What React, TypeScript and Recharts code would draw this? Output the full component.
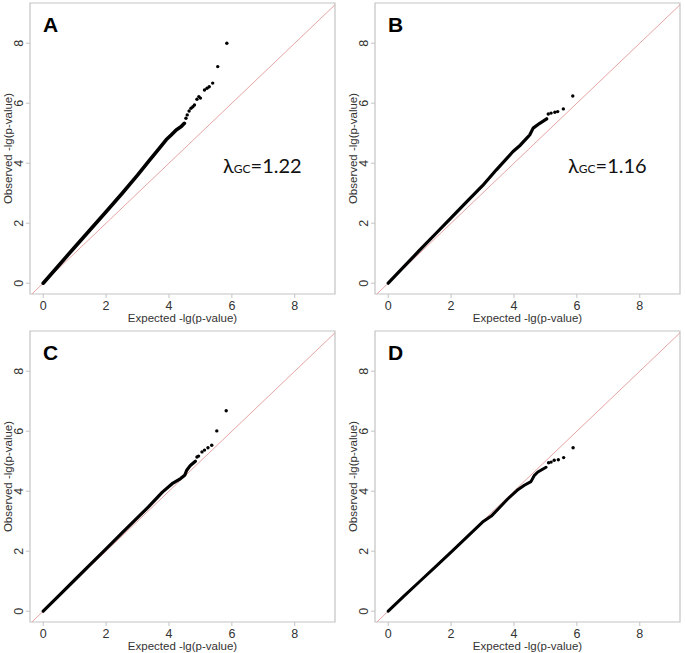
import { ReferenceArea, ReferenceLine, Scatter, ScatterChart, XAxis, YAxis } from 'recharts';

const ticks = [0, 2, 4, 6, 8];
const xDomain: [number, number] = [-0.42, 9.28];
const yDomain: [number, number] = [-0.36, 9.34];

const bulkA: [number, number][] = [
  [0, 0], [0.5, 0.6], [1, 1.2], [1.5, 1.79], [2, 2.38], [2.5, 2.98], [3, 3.6], [3.39, 4.11],
  [3.6, 4.38], [3.91, 4.78], [4.07, 4.94], [4.23, 5.11], [4.39, 5.22], [4.49, 5.33],
];
const tailA: [number, number][] = [
  [4.54, 5.5], [4.58, 5.61], [4.64, 5.74], [4.7, 5.83], [4.76, 5.88], [4.81, 5.94], [4.89, 6.13],
  [4.95, 6.22], [5.0, 6.17], [5.13, 6.44], [5.21, 6.5], [5.28, 6.55], [5.39, 6.67], [5.55, 7.22], [5.84, 8.0],
];

const bulkB: [number, number][] = [
  [0, 0], [0.5, 0.55], [1, 1.1], [1.5, 1.64], [2, 2.18], [2.5, 2.72], [3, 3.25], [3.44, 3.78],
  [3.97, 4.39], [4.2, 4.6], [4.4, 4.83], [4.5, 4.94], [4.61, 5.17], [4.82, 5.33], [5.04, 5.48],
];
const tailB: [number, number][] = [
  [5.09, 5.64], [5.18, 5.67], [5.3, 5.7], [5.39, 5.72], [5.57, 5.81], [5.87, 6.24],
];

const bulkC: [number, number][] = [
  [0, 0], [0.5, 0.52], [1, 1.04], [1.5, 1.56], [2, 2.08], [2.5, 2.6], [3, 3.12], [3.37, 3.5],
  [3.79, 3.97], [4.1, 4.25], [4.37, 4.42], [4.5, 4.53], [4.56, 4.69], [4.68, 4.86], [4.84, 5.0],
];
const tailC: [number, number][] = [
  [4.89, 5.14], [4.94, 5.17], [5.05, 5.31], [5.13, 5.37], [5.24, 5.45], [5.36, 5.53], [5.52, 6.01], [5.82, 6.68],
];

const bulkD: [number, number][] = [
  [0, 0], [0.5, 0.5], [1, 0.99], [1.5, 1.48], [2, 1.97], [2.5, 2.47], [3, 2.97], [3.28, 3.17],
  [3.8, 3.74], [4.1, 4.03], [4.33, 4.2], [4.54, 4.32], [4.65, 4.53], [4.76, 4.64], [5.02, 4.8],
];
const tailD: [number, number][] = [
  [5.1, 4.95], [5.18, 4.97], [5.28, 5.03], [5.41, 5.05], [5.58, 5.12], [5.88, 5.45],
];

const panelLetters = ['A', 'B', 'C', 'D'];
const lambdaLabels = ['1.22', '1.16'];

const FONT = '"Liberation Sans", Arial, sans-serif';
const TEXT = '#333';
const BOX = '#c4c4c4';
const PLOT_LEFT = 30;
const PLOT_BOTTOM = 294;

const XTick = ({ x, payload }: any) => (
  <text x={x} y={PLOT_BOTTOM + 16} textAnchor="middle" fontSize={12.5} fill={TEXT} fontFamily={FONT}>
    {payload.value}
  </text>
);

const YTick = ({ y, payload }: any) => (
  <text
    transform={`translate(${PLOT_LEFT - 7},${y}) rotate(-90)`}
    textAnchor="middle"
    fontSize={12.5}
    fill={TEXT}
    fontFamily={FONT}
  >
    {payload.value}
  </text>
);

const toPoints = (pairs: [number, number][]) => pairs.map(([x, y]) => ({ x, y }));

function QQPanel({ left, top, bulk, tail, weight }: { left: number; top: number; bulk: [number, number][]; tail: [number, number][]; weight: number }) {
  return (
    <div style={{ position: 'absolute', left, top }}>
      <ScatterChart width={340} height={326} margin={{ top: 3, right: 5, bottom: 0, left: 0 }}>
        <XAxis
          type="number"
          dataKey="x"
          domain={xDomain}
          ticks={ticks}
          interval={0}
          allowDataOverflow
          axisLine={false}
          tickLine={{ stroke: BOX }}
          tickSize={4}
          height={32}
          tick={XTick}
        />
        <YAxis
          type="number"
          dataKey="y"
          domain={yDomain}
          ticks={ticks}
          interval={0}
          allowDataOverflow
          axisLine={false}
          tickLine={{ stroke: BOX }}
          tickSize={4}
          width={PLOT_LEFT}
          tick={YTick}
        />
        <ReferenceArea x1={xDomain[0]} x2={xDomain[1]} y1={yDomain[0]} y2={yDomain[1]} fill="none" stroke={BOX} strokeWidth={1.2} />
        <ReferenceLine segment={[{ x: -0.36, y: -0.36 }, { x: 9.28, y: 9.28 }]} stroke="#e6a4a4" strokeWidth={1} />
        <Scatter
          data={toPoints(bulk)}
          line={{ stroke: '#000', strokeWidth: weight, strokeLinecap: 'round', strokeLinejoin: 'round' }}
          lineType="joint"
          shape={() => <g />}
          isAnimationActive={false}
        />
        <Scatter
          data={toPoints(tail)}
          shape={(p: any) => <circle cx={p.cx} cy={p.cy} r={1.7} fill="#000" />}
          isAnimationActive={false}
        />
      </ScatterChart>
    </div>
  );
}

const panels = [
  { left: 0, top: 0, bulk: bulkA, tail: tailA, weight: 3.6 },
  { left: 345, top: 0, bulk: bulkB, tail: tailB, weight: 3.2 },
  { left: 0, top: 328, bulk: bulkC, tail: tailC, weight: 3.2 },
  { left: 345, top: 328, bulk: bulkD, tail: tailD, weight: 3 },
];

export default function App() {
  return (
    <div style={{ position: 'relative', width: 685, height: 653, background: '#fff', overflow: 'hidden' }}>
      <style>{'body{margin:0}'}</style>
      {panels.map((p, i) => (
        <QQPanel key={i} {...p} />
      ))}
      <svg width={685} height={653} style={{ position: 'absolute', left: 0, top: 0, pointerEvents: 'none' }}>
        {panels.map((p, i) => {
          const boxLeft = p.left + PLOT_LEFT;
          const boxTop = p.top + 3;
          return (
            <g key={i} fontFamily={FONT}>
              <text x={boxLeft + 13} y={boxTop + 29} fontSize={21} fontWeight="bold" fill="#000">
                {panelLetters[i]}
              </text>
              <text x={boxLeft + 152.5} y={boxTop + 291 + 27.5} textAnchor="middle" fontSize={11.5} fill={TEXT}>
                Expected -lg(p-value)
              </text>
              <text
                transform={`translate(${p.left + 12},${boxTop + 145.5}) rotate(-90)`}
                textAnchor="middle"
                fontSize={11.5}
                fill={TEXT}
              >
                Observed -lg(p-value)
              </text>
            </g>
          );
        })}
        {lambdaLabels.map((v, i) => (
          <text key={v} x={panels[i].left + 223} y={173} fontFamily="Lato, 'Open Sans', sans-serif" fontSize={20} fill="#111">
            λ<tspan fontSize={12}>GC</tspan>={v}
          </text>
        ))}
      </svg>
    </div>
  );
}
